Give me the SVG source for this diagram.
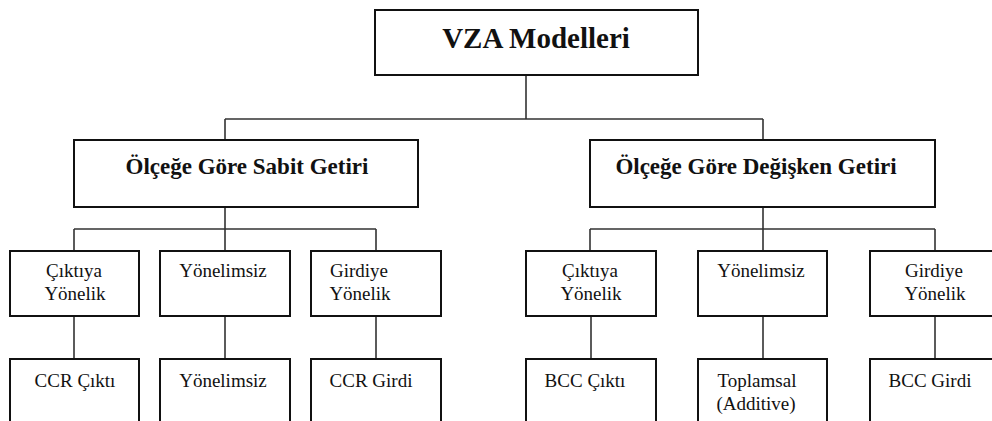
<svg xmlns="http://www.w3.org/2000/svg" width="992" height="421" viewBox="0 0 992 421">
<style>
.box{fill:#fff;stroke:#111;stroke-width:2}
.con{fill:none;stroke:#333;stroke-width:1.6}
text{font-family:'Liberation Serif',serif;fill:#111;text-anchor:middle}
.b{font-weight:bold}
.s{font-size:19px}
</style>
<rect width="992" height="421" fill="#fff"/>
<g id="connectors">
<path class="con" d="M526,76 V119 M225,119 H763 M225,119 V140 M763,119 V140"/>
<path class="con" d="M225,207 V229 M74,229 H376 M74,229 V251 M225,229 V251 M376,229 V251"/>
<path class="con" d="M763,207 V229 M590,229 H935 M590,229 V251 M763,229 V251 M935,229 V251"/>
<path class="con" d="M74,316 V359 M225,316 V359 M376,316 V359 M591,316 V359 M763,316 V359 M935,316 V359"/>
</g>
<g id="root"><rect class="box" x="375" y="10" width="323" height="65"/><text class="b" x="536" y="48" font-size="29" font-family="'Liberation Serif', serif">VZA Modelleri</text></g>
<g id="sabit"><rect class="box" x="74" y="140" width="344" height="67"/><text class="b" x="247" y="174" font-size="23" font-family="'Liberation Serif', serif">Ölçeğe Göre Sabit Getiri</text></g>
<g id="degisken"><rect class="box" x="590" y="140" width="345" height="67"/><text class="b" x="756" y="174" font-size="23" font-family="'Liberation Serif', serif">Ölçeğe Göre Değişken Getiri</text></g>
<g id="s-cikti"><rect class="box" x="10" y="251" width="129" height="65"/><text class="s" x="74" y="277">Çıktıya</text><text class="s" x="75" y="300">Yönelik</text></g>
<g id="s-yon"><rect class="box" x="160" y="251" width="130" height="65"/><text class="s" x="223" y="277">Yönelimsiz</text></g>
<g id="s-girdi"><rect class="box" x="311" y="251" width="130" height="65"/><text class="s" x="359" y="277">Girdiye</text><text class="s" x="360" y="300">Yönelik</text></g>
<g id="d-cikti"><rect class="box" x="526" y="251" width="130" height="65"/><text class="s" x="590" y="277">Çıktıya</text><text class="s" x="591" y="300">Yönelik</text></g>
<g id="d-yon"><rect class="box" x="698" y="251" width="129" height="65"/><text class="s" x="761" y="277">Yönelimsiz</text></g>
<g id="d-girdi"><rect class="box" x="870" y="251" width="130" height="65"/><text class="s" x="934" y="277">Girdiye</text><text class="s" x="935" y="300">Yönelik</text></g>
<g id="ccr-cikti"><rect class="box" x="10" y="359" width="129" height="80"/><text class="s" x="75" y="387">CCR Çıktı</text></g>
<g id="ccr-yon"><rect class="box" x="160" y="359" width="130" height="80"/><text class="s" x="223" y="387">Yönelimsiz</text></g>
<g id="ccr-girdi"><rect class="box" x="311" y="359" width="130" height="80"/><text class="s" x="371" y="387">CCR Girdi</text></g>
<g id="bcc-cikti"><rect class="box" x="526" y="359" width="130" height="80"/><text class="s" x="585" y="387">BCC Çıktı</text></g>
<g id="additive"><rect class="box" x="698" y="359" width="129" height="80"/><text class="s" x="757" y="387">Toplamsal</text><text class="s" x="756" y="410">(Additive)</text></g>
<g id="bcc-girdi"><rect class="box" x="870" y="359" width="130" height="80"/><text class="s" x="930" y="387">BCC Girdi</text></g>
</svg>
